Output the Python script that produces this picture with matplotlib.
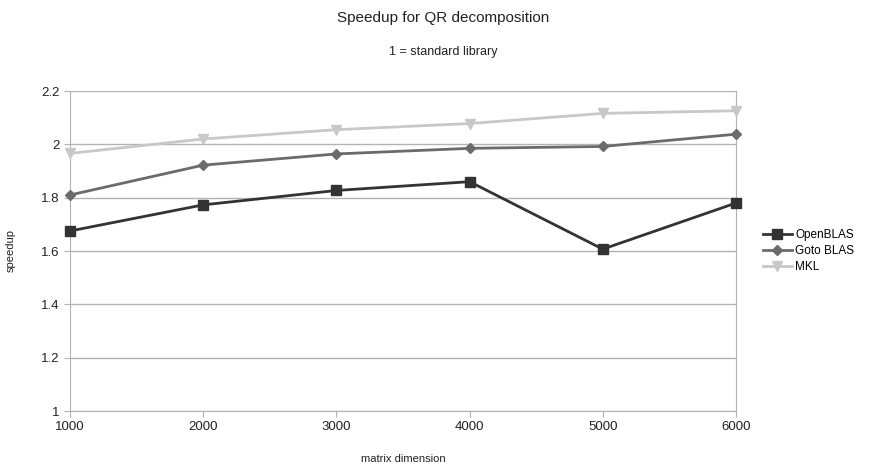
import matplotlib
matplotlib.use("Agg")
import matplotlib.pyplot as plt

# data
dims = [1000, 2000, 3000, 4000, 5000, 6000]
openblas = [1.675, 1.773, 1.827, 1.860, 1.607, 1.780]
goto = [1.810, 1.922, 1.964, 1.985, 1.992, 2.038]
mkl = [1.966, 2.020, 2.055, 2.078, 2.116, 2.126]
yticks = [1, 1.2, 1.4, 1.6, 1.8, 2, 2.2]

plt.rcParams["font.family"] = ["Liberation Sans", "DejaVu Sans"]

W, H = 886, 467
fig = plt.figure(figsize=(W / 100, H / 100), dpi=100)
ax = fig.add_axes([70 / W, 1 - 411 / H, (736 - 70) / W, (411 - 91) / H])

ax.plot(dims, openblas, color="#333333", lw=2, marker="s", ms=7,
        label="OpenBLAS", clip_on=False, zorder=5)
ax.plot(dims, goto, color="#6b6b6b", lw=2, marker="D", ms=5,
        label="Goto BLAS", clip_on=False, zorder=4)
ax.plot(dims, mkl, color="#c8c8c8", lw=2, marker="v", ms=7,
        label="MKL", clip_on=False, zorder=3)

ax.set_xlim(1000, 6000)
ax.set_ylim(1, 2.2)
ax.set_xticks(dims)
ax.set_yticks(yticks)
ax.set_yticklabels(["1", "1.2", "1.4", "1.6", "1.8", "2", "2.2"])
ax.grid(axis="y", color="#b3b3b3", lw=1)
ax.set_axisbelow(True)
ax.spines["top"].set_visible(False)
for s in ["left", "right", "bottom"]:
    ax.spines[s].set_color("#b3b3b3")
ax.tick_params(axis="both", colors="#b3b3b3", labelcolor="#222222", labelsize=9.5,
               length=4, direction="out")
ax.tick_params(axis="x", pad=3)
ax.set_xlabel("matrix dimension", fontsize=8, color="#222222", labelpad=15)
ax.set_ylabel("speedup", fontsize=8, color="#222222", labelpad=18)

fig.text(0.5, 1 - 18 / H, "Speedup for QR decomposition", ha="center", va="center",
         fontsize=11, color="#222222")
fig.text(0.5, 1 - 52 / H, "1 = standard library", ha="center", va="center",
         fontsize=9, color="#222222")

ax.legend(loc="center left", bbox_to_anchor=(1.025, 0.5), frameon=False,
          fontsize=8.5, handlelength=2.4, handletextpad=0.3, labelspacing=0.35)

fig.savefig("out.png", dpi=100)
